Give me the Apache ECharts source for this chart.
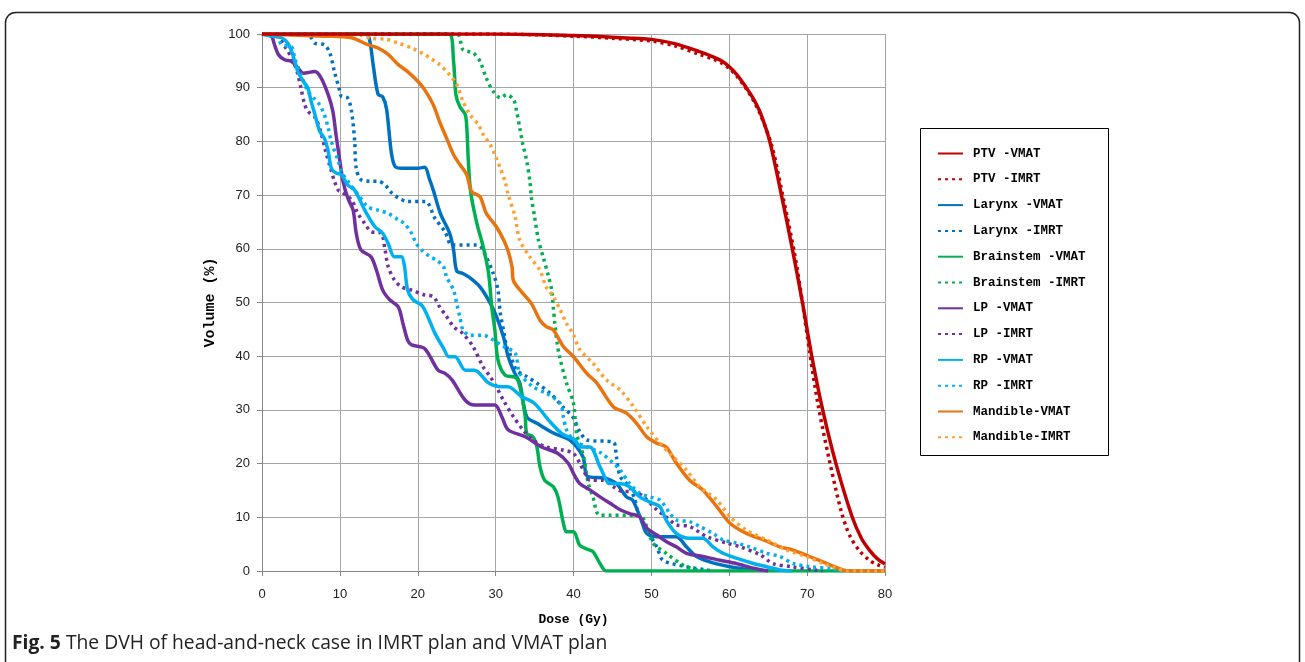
<!DOCTYPE html>
<html>
<head>
<meta charset="utf-8">
<script src="https://cdn.jsdelivr.net/npm/echarts@6/dist/echarts.min.js"></script>
<style>
  html, body { margin: 0; padding: 0; background: #fff; }
  #chart { width: 1305px; height: 662px; }
</style>
</head>
<body>
<div id="chart"></div>
<script>
// dose (Gy), volume (%) pairs
const ptvVmat = [[0,100],[30,100],[40,99.7],[45,99.4],[50,99],[53,98.2],[56,96.8],[58,95.7],[59,95],[60,93.9],[61,92.4],[62,90.4],[63,88.2],[64,85.3],[65.2,80],[66.7,70],[68.1,60],[69.4,50],[70.6,40],[72,30],[73.7,20],[75.8,10],[77,6],[78,3.9],[79,2.3],[80,1.3]];
const ptvImrt = [[0,100],[30,100],[40,99.6],[45,99.2],[50,98.7],[53,97.8],[56,96.3],[58,95.3],[59,94.6],[60,93.6],[61,92.1],[62,90.2],[63,87.9],[64,85],[65.5,79],[67,69],[68.4,59],[69.4,50],[70.3,41],[71.4,31],[72.8,21],[74.4,11],[75.5,6.5],[76.7,3.8],[78,2],[79,1.2],[80,0.7]];
const larynxVmat = [[0,100],[13.3,100],[13.8,99],[14.3,94],[14.9,88.8],[15.5,88.3],[16,86],[16.6,78],[17.1,75.3],[18,75],[20,75],[20.9,75.2],[21.5,73],[22,70.9],[22.9,66.6],[24.1,62.9],[24.6,59.8],[25,55.9],[25.8,55.4],[26.8,54.5],[28,52.9],[29.3,49.9],[30.1,47.4],[31,43.6],[31.6,40],[32.4,37],[33.1,35],[34,28.7],[35.3,27.5],[37.4,25.7],[39.5,24.4],[41.2,21.3],[41.8,17.6],[44,17.3],[45.5,16.3],[46.8,13.8],[47.6,13.2],[48.7,9.5],[49.4,7],[50.7,6.4],[53.2,6.4],[54.5,4.5],[55.8,2.7],[57.9,1.5],[60.1,0.8],[63,0.1]];
const larynxImrt = [[0,100],[5.5,100],[6.3,99.3],[6.8,98.3],[8,98],[8.7,96.5],[9.3,93],[10,89.3],[10.2,88.4],[11,88.1],[11.5,85.6],[11.9,80],[12.1,75],[12.7,72.9],[14,72.6],[14.9,72.6],[15.8,71.9],[16.6,70.5],[17.5,69.5],[18.7,68.8],[21,68.8],[22.2,65.7],[23.5,63.2],[24.4,60.7],[27.6,60.7],[28.2,60.2],[29.7,55.4],[30.3,52.3],[30.6,48],[31,44.9],[31.4,41.8],[31.8,40.6],[32.7,37.4],[34,36.2],[35.3,35],[37,33.1],[38.6,30.6],[39.9,28.7],[40.8,26],[41.7,24.4],[45.1,24],[45.5,21.3],[46,17.6],[47.2,15.7],[47.9,13.2],[48.3,10.7],[49.4,7.6],[50.7,4.5],[51.5,2],[54.5,0.8],[57,0.2],[58,0]];
const brainstemVmat = [[0,100],[24,100],[24.6,94.9],[24.9,88.7],[25.4,86.5],[26.1,85],[26.3,82.5],[26.5,76.3],[26.8,70.5],[27.6,64.7],[28.4,60.4],[29.1,55.4],[29.5,49.2],[29.9,44.9],[30.3,39.3],[31.2,36.5],[32.7,35.9],[33.3,33.1],[33.8,28.7],[34,25.6],[34.8,25],[35.3,23.1],[35.7,19.4],[36.3,16.9],[37.4,15.7],[38,13.8],[38.7,8.9],[39.1,7.3],[40,7.3],[40.8,4.8],[41.7,4.1],[42.5,3.6],[43.4,1.4],[44.2,0],[80,0]];
const brainstemImrt = [[0,100],[25,100],[25.8,97.1],[27.1,96.5],[28,94.9],[28.8,91.8],[29.7,89.3],[30.6,88.1],[31.4,88.7],[32.3,87.8],[32.7,85.6],[33.1,82.5],[33.5,79.4],[34,76.3],[34.4,72.6],[34.6,69.5],[35,66],[35.5,61.6],[36.1,58.5],[36.8,54.8],[37.2,52.3],[37.4,49.2],[37.6,46.1],[37.9,42.4],[38.2,40],[39.1,35],[40,31.2],[40.4,25.6],[41.3,21.3],[41.9,16.3],[42.5,13.8],[43.4,10.4],[48.5,10.4],[49.4,8.3],[50.2,5.2],[51.9,3.3],[53.7,1.4],[54.5,0.8],[56.2,0.1]];
const lpVmat = [[0,100],[1.2,99.6],[1.6,98],[2.1,96.2],[2.9,95.2],[3.8,94.9],[4.6,93.7],[5.3,92.7],[6.8,93],[7.6,91.8],[8.5,88.7],[9.1,85.6],[9.5,81.3],[10,76.3],[10.4,72.6],[11,69.5],[11.7,67.2],[12.1,62.9],[12.7,59.8],[14,58.5],[14.7,56],[15.5,52.3],[16.4,50.5],[17.5,49.2],[18.1,46.1],[18.7,43],[19.2,42.1],[20.9,41.4],[22.6,37.4],[23.5,36.8],[24.4,35.6],[26.1,31.8],[27.3,30.9],[29.9,30.9],[30.8,28.7],[31.6,26.3],[33.8,25],[35.9,23.1],[38,21.9],[39.3,20.1],[40.2,17.6],[40.8,16.3],[42.1,15.1],[43.4,13.8],[44.7,12.6],[46,11.4],[47.2,10.7],[48.5,10.1],[49.4,8],[50.7,6.7],[51.9,5.5],[53.2,4.5],[54.5,3.3],[56.6,2.7],[58.8,2],[60.9,1.4],[63.1,0.5],[65,0]];
const lpImrt = [[0,100],[2,99.5],[3,97.5],[4,95],[4.6,92.5],[5,89.9],[5.5,86.8],[5.9,85.6],[6.8,84.5],[7.5,82],[8.2,78],[8.8,75],[9.3,72.6],[9.8,70.9],[10.2,70.6],[11.5,69.1],[12.3,66.6],[13.2,64.7],[14,63.2],[15.3,62.9],[15.8,59.8],[16.2,56.7],[17,54.2],[17.9,52.9],[19.2,52.3],[20.9,51.4],[22,51.1],[22.8,49.2],[23.7,47.4],[24.6,45.5],[25.8,44.2],[27.1,41.8],[28.4,38],[29.3,36.2],[30.1,34.3],[31,31.8],[32.3,28.7],[33.5,26.3],[34.8,24.4],[36.5,23.1],[38.7,22.5],[40,21.9],[40.8,20.1],[41.7,17.6],[42.1,16.9],[43.8,16.9],[45.1,15.7],[46.4,14.8],[47.7,14.8],[49,13.8],[50.7,11.4],[51.9,10.1],[53.2,8.6],[54.9,8.3],[57.1,6.4],[59.7,5.2],[61.4,4.5],[64,3],[65.6,1.4],[68,0.8],[71,0.2],[72,0]];
const rpVmat = [[0,100],[1.2,99.6],[2.5,99.3],[3.3,98.3],[3.8,96.8],[4.2,94.9],[4.6,93],[5.3,91.2],[5.9,89.9],[6.3,87.5],[6.8,85],[7.4,81.9],[8,80.6],[8.5,78.2],[8.9,75],[9.5,74.1],[10.2,73.8],[11,71.9],[11.9,70.9],[13.2,67.2],[14.5,64.1],[15.5,62.9],[16.2,61],[17,58.5],[17.9,58.5],[18.3,56.7],[18.7,52.3],[19.4,50.5],[20.5,49.5],[21.1,48],[22.2,44.3],[23.3,41.5],[24,39.9],[24.8,39.9],[26.1,37.4],[27.3,37.4],[29.1,35],[30.8,34.3],[31.6,34.3],[33.3,32.5],[35,31.2],[36.8,28.1],[38.5,25.6],[40.2,24.4],[40.8,23.1],[42.1,23.1],[43.4,19.4],[44.7,16.3],[46,16.3],[47.2,15.7],[48.5,13.8],[50.2,12.6],[51.1,12],[51.9,9.5],[53.2,7],[54.9,6.1],[56.6,6.1],[57.9,4.5],[59.2,3.3],[60.9,2.4],[63.1,1.4],[64.8,0.8],[66.5,0.2],[68,0]];
const rpImrt = [[0,100],[2,99.5],[2.5,98],[3.8,97.6],[4.2,95.5],[5,92.4],[5.9,89.3],[6.8,87.8],[7.4,86.8],[8,85],[8.5,82.5],[8.9,80],[9.8,76.3],[10.2,74.4],[11,72.6],[12.3,70.2],[13.6,67.8],[14.9,67.2],[16.2,66.6],[17.5,65.4],[18.3,64.7],[19.2,62.9],[19.8,61],[20.5,59.8],[21.6,58.5],[22.4,57.9],[23.3,56.7],[23.7,54.8],[24.6,52.3],[25,49.8],[25.4,47.4],[25.8,44.9],[26.7,43.9],[28.4,43.9],[29.7,43],[31,41.8],[32.5,40.6],[33.1,36.8],[34.8,34.3],[36.5,33.1],[38.3,31.2],[38.7,28.7],[39.1,26.3],[40,24.4],[41.7,23.1],[43.5,22],[45.1,20.1],[46,18.8],[47.2,16.3],[48.5,14.5],[49.8,13.8],[51.1,13.2],[52.4,10.7],[53.2,9.5],[54.9,9.2],[56.2,8.3],[57.9,7],[59.2,5.8],[60.9,5.2],[62.6,4.5],[64.8,3.3],[66.5,2.7],[68.2,1.4],[70.3,0.8],[73.3,0.4],[74.5,0]];
const mandibleVmat = [[0,100],[8,99.6],[11.5,99.3],[13.6,98],[14.9,97.4],[16.2,96.2],[17.5,94.3],[18.7,93],[20,91.2],[20.9,89.6],[22,86.8],[22.8,83.7],[23.7,80.6],[24.6,77.5],[25.4,75.7],[26.3,73.8],[26.9,70.7],[28,69.7],[28.8,66.6],[30.1,64.1],[31.4,60.4],[32.1,56.7],[32.3,54],[33.5,51.7],[34.6,49.8],[35.7,46.7],[36.5,45.5],[37.4,44.9],[38.7,41.8],[40,39.9],[41.7,36.8],[43,35],[45.1,30.6],[46.8,29.4],[48.1,27.5],[49.4,25],[50.7,23.8],[51.9,23.1],[53.2,20.1],[54.9,16.9],[56.6,15.1],[58.4,12],[60.1,8.9],[62.2,7],[64.4,5.8],[66.5,4.5],[68.2,3.9],[70.3,2.7],[72.5,1.4],[74.6,0.2],[75.5,0],[80,0]];
const mandibleImrt = [[0,100],[12,100],[14,99.2],[16,99],[17.5,98.3],[19.2,97.4],[20.9,96.2],[21.6,95.5],[22.8,94.3],[24.1,92.4],[25,90.6],[25.8,87.5],[26.7,85],[27.8,83.1],[28.4,81.3],[29.3,79.4],[29.9,77.5],[30.6,75],[31.2,72.6],[31.6,70.2],[32.5,66],[33.1,61.6],[34.4,58.5],[35.7,56],[36.5,52.9],[37.4,51.1],[38.3,48.6],[39.1,46.1],[40,44],[40.8,41.2],[42.5,38.7],[44.2,35.6],[46,33.7],[47.7,30.6],[49.4,26.9],[51.1,23.8],[52.8,21.3],[54.5,18.8],[56.2,15.7],[58.4,13.2],[60.1,10.1],[62.2,7.6],[64.8,5.8],[67.4,3.9],[69.9,2.7],[72.1,1.4],[73.8,0.5],[75,0],[80,0]];

const xTicks = [0, 10, 20, 30, 40, 50, 60, 70, 80];
const yTicks = [0, 10, 20, 30, 40, 50, 60, 70, 80, 90, 100];

const mono = "'Liberation Mono', 'DejaVu Sans Mono', monospace";
const narrow = "'Liberation Sans Narrow', 'Liberation Sans', Arial, sans-serif";

function line(name, data, color, dotted, z) {
    return {
        name: name,
        type: 'line',
        data: data,
        symbol: 'none',
        smooth: 0.3,
        z: z || 2,
        itemStyle: { color: color },
        lineStyle: { color: color, width: 3.5, type: dotted ? [3, 4] : 'solid', cap: 'butt' }
    };
}

const series = [
    line('PTV -VMAT', ptvVmat, '#C00000', false, 4),
    line('PTV -IMRT', ptvImrt, '#C00000', true, 4),
    line('Larynx -VMAT', larynxVmat, '#0070C0', false),
    line('Larynx -IMRT', larynxImrt, '#0070C0', true),
    line('Brainstem -VMAT', brainstemVmat, '#00B050', false),
    line('Brainstem -IMRT', brainstemImrt, '#00B050', true),
    line('LP -VMAT', lpVmat, '#7030A0', false),
    line('LP -IMRT', lpImrt, '#7030A0', true),
    line('RP -VMAT', rpVmat, '#00B0F0', false),
    line('RP -IMRT', rpImrt, '#00B0F0', true),
    line('Mandible-VMAT', mandibleVmat, '#E8730F', false),
    line('Mandible-IMRT', mandibleImrt, '#FFA030', true)
];

const chart = echarts.init(document.getElementById('chart'));
chart.setOption({
    animation: false,
    backgroundColor: '#fff',
    grid: { left: 262, right: 420, top: 34, bottom: 91 },
    xAxis: {
        type: 'value',
        min: xTicks[0],
        max: xTicks[xTicks.length - 1],
        interval: 10,
        name: 'Dose (Gy)',
        nameLocation: 'middle',
        nameGap: 42,
        nameTextStyle: { fontFamily: mono, fontWeight: 'bold', fontSize: 13, color: '#000' },
        axisLine: { lineStyle: { color: '#868686', width: 1 } },
        axisTick: { show: true, length: 5, lineStyle: { color: '#868686' } },
        axisLabel: { fontFamily: narrow, fontSize: 13, color: '#222', margin: 17 },
        splitLine: { show: true, lineStyle: { color: '#A6A6A6', width: 1 } }
    },
    yAxis: {
        type: 'value',
        min: yTicks[0],
        max: yTicks[yTicks.length - 1],
        interval: 10,
        name: 'Volume (%)',
        nameLocation: 'middle',
        nameRotate: 90,
        nameGap: 44,
        nameTextStyle: { fontFamily: mono, fontWeight: 'bold', fontSize: 15, color: '#000' },
        axisLine: { show: true, lineStyle: { color: '#868686', width: 1 } },
        axisTick: { show: true, length: 5, lineStyle: { color: '#868686' } },
        axisLabel: { fontFamily: narrow, fontSize: 13, color: '#222', margin: 12 },
        splitLine: { show: true, lineStyle: { color: '#A6A6A6', width: 1 } }
    },
    legend: {
        orient: 'vertical',
        left: 932,
        top: 142,
        itemWidth: 25,
        itemHeight: 14,
        itemGap: 12.8,
        itemStyle: { opacity: 0 },
        textStyle: { fontFamily: mono, fontWeight: 'bold', fontSize: 12.5, color: '#000', padding: [0, 0, 0, 5] },
        data: series.map(s => s.name)
    },
    graphic: [
        {
            type: 'rect',
            shape: { x: 5.5, y: 12.5, width: 1294, height: 700, r: 10 },
            style: { fill: 'none', stroke: '#222', lineWidth: 1.5 },
            silent: true
        },
        {
            type: 'rect',
            shape: { x: 920.5, y: 128.5, width: 188, height: 327 },
            style: { fill: 'none', stroke: '#000', lineWidth: 1 },
            silent: true
        },
        {
            type: 'text',
            left: 12,
            top: 634,
            style: {
                text: '{b|Fig. 5} The DVH of head-and-neck case in IMRT plan and VMAT plan',
                fontFamily: "'Open Sans', 'Noto Sans', sans-serif",
                fontSize: 19.3,
                fill: '#222',
                rich: {
                    b: { fontFamily: "'Open Sans', 'Noto Sans', sans-serif", fontSize: 19.3, fontWeight: 'bold', fill: '#222' }
                }
            }
        }
    ],
    series: series
});
</script>
</body>
</html>
